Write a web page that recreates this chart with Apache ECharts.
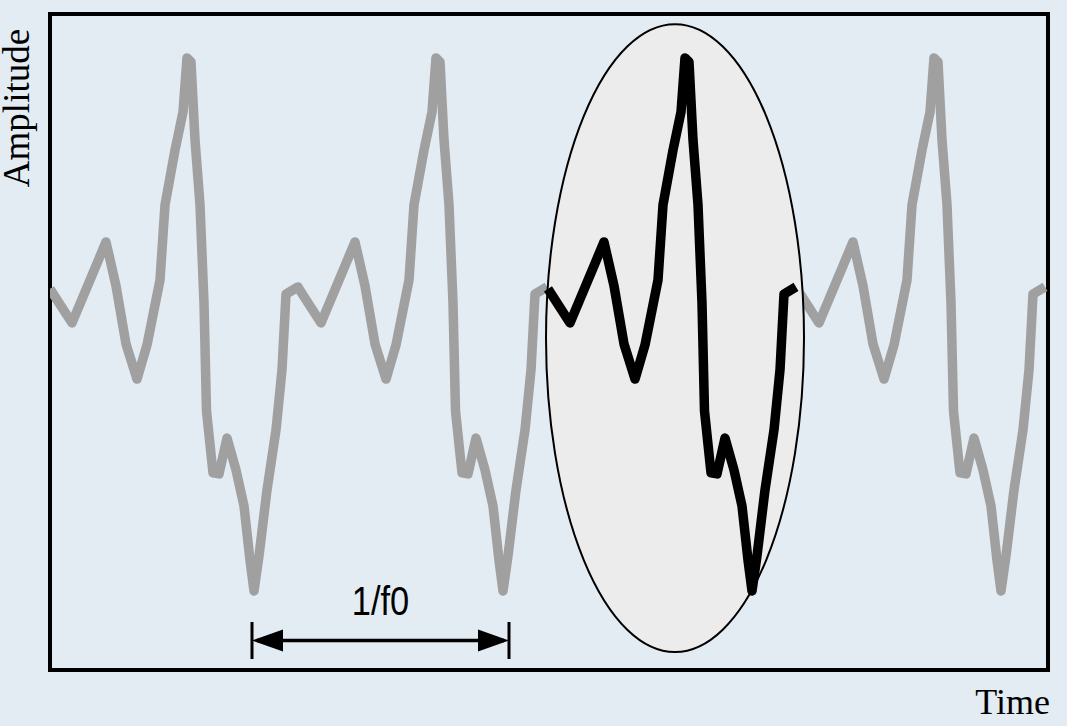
<!DOCTYPE html>
<html>
<head>
<meta charset="utf-8">
<style>
  html, body { margin: 0; padding: 0; background: #e3ebf3; }
  #chart { width: 1067px; height: 726px; }
</style>
<script src="https://cdn.jsdelivr.net/npm/echarts@6/dist/echarts.min.js"></script>
</head>
<body>
<div id="chart"></div>
<script>
// ---- Data ----
// One period of the waveform: phase (time units from period start) and amplitude
const periodPhase = [0, 22, 56, 66, 76, 87, 97, 110, 115, 125, 133, 137, 141, 145, 150, 154, 156.5, 163, 169, 177, 186, 194, 200, 204, 209, 217, 226, 232, 236, 248];
const periodAmp   = [0.162, 0.058, 0.305, 0.171, -0.006, -0.113, -0.009, 0.189, 0.418, 0.585, 0.701, 0.866, 0.854, 0.616, 0.418, 0.119, -0.210, -0.399, -0.402, -0.293, -0.390, -0.500, -0.665, -0.759, -0.652, -0.451, -0.268, -0.085, 0.146, 0.168];
// Start time of each period on the time axis
const periodStarts = [0, 249, 498, 747];
// Runs of consecutive periods: [first period index, number of periods]
const grayRuns = [[0, 2], [3, 1]];
const blackRuns = [[2, 1]];
// Time axis extent
const timeMin = 0, timeMax = 998;
// Highlight ellipse: centre (time, amplitude) and radii (time, amplitude)
const ellipseCenter = [625, 0.012];
const ellipseRadius = [129, 0.957];
// Period arrow: from, to (time), amplitude level, label
const arrowFrom = 202, arrowTo = 459, arrowLevel = -0.91;
const arrowLabel = '1/f0';
const yLabel = 'Amplitude', xLabel = 'Time';

// waveform drawn through the cartesian scales
function waveRenderer(color, width) {
  return function (params, api) {
    const first = api.value(0), count = api.value(1);
    const pts = [];
    for (let k = first; k < first + count; k++) {
      for (let i = 0; i < periodPhase.length; i++) {
        pts.push(api.coord([periodStarts[k] + periodPhase[i], periodAmp[i]]));
      }
    }
    return {
      type: 'polyline',
      shape: { points: pts },
      style: { stroke: color, lineWidth: width, fill: null, lineJoin: 'round', lineCap: 'butt' }
    };
  };
}

const chart = echarts.init(document.getElementById('chart'), null, { renderer: 'svg', width: 1067, height: 726 });

const option = {
  backgroundColor: '#e3ebf3',
  animation: false,
  grid: { left: 50, right: 19, top: 14, bottom: 56, show: true, borderColor: '#000', borderWidth: 4, backgroundColor: 'transparent' },
  xAxis: { type: 'value', min: timeMin, max: timeMax, axisLine: { show: false }, axisTick: { show: false }, axisLabel: { show: false }, splitLine: { show: false } },
  yAxis: { type: 'value', min: -1, max: 1, axisLine: { show: false }, axisTick: { show: false }, axisLabel: { show: false }, splitLine: { show: false } },
  graphic: [
    { type: 'text', x: 16, y: 108, rotation: Math.PI / 2,
      style: { text: yLabel, font: '37px "Liberation Serif", "DejaVu Serif", serif', fill: '#000', align: 'center', verticalAlign: 'middle' } },
    { type: 'text', x: 1050, y: 702,
      style: { text: xLabel, font: '36px "Liberation Serif", "DejaVu Serif", serif', fill: '#000', align: 'right', verticalAlign: 'middle' } }
  ],
  series: [
    {
      type: 'custom', z: 1, data: grayRuns, clip: true,
      renderItem: waveRenderer('#a0a0a0', 9.5)
    },
    {
      type: 'custom', z: 2, data: [[ellipseCenter[0], ellipseCenter[1], ellipseRadius[0], ellipseRadius[1]]],
      clip: false,
      renderItem: function (params, api) {
        const c = api.coord([api.value(0), api.value(1)]);
        const s = api.size([api.value(2), api.value(3)]);
        return {
          type: 'path',
          shape: { pathData: 'M0,50A50,50,0,1,0,100,50A50,50,0,1,0,0,50Z', x: c[0] - s[0], y: c[1] - s[1], width: 2 * s[0], height: 2 * s[1], layout: 'cover' },
          style: { fill: '#ececec', stroke: '#000', lineWidth: 2 }
        };
      }
    },
    {
      type: 'custom', z: 3, data: blackRuns, clip: true,
      renderItem: waveRenderer('#000', 9.5)
    },
    {
      type: 'custom', z: 4, data: [[arrowFrom, arrowTo, arrowLevel]], clip: false,
      renderItem: function (params, api) {
        const p1 = api.coord([api.value(0), api.value(2)]);
        const p2 = api.coord([api.value(1), api.value(2)]);
        const y = p1[1], hl = 31, hw = 11, bh = 18.5;
        return {
          type: 'group',
          children: [
            { type: 'line', shape: { x1: p1[0] + 5, y1: y, x2: p2[0] - 5, y2: y }, style: { stroke: '#000', lineWidth: 3.5 } },
            { type: 'polygon', shape: { points: [[p1[0], y], [p1[0] + hl, y - hw], [p1[0] + hl, y + hw]] }, style: { fill: '#000' } },
            { type: 'polygon', shape: { points: [[p2[0], y], [p2[0] - hl, y - hw], [p2[0] - hl, y + hw]] }, style: { fill: '#000' } },
            { type: 'line', shape: { x1: p1[0], y1: y - bh, x2: p1[0], y2: y + bh }, style: { stroke: '#000', lineWidth: 3 } },
            { type: 'line', shape: { x1: p2[0], y1: y - bh, x2: p2[0], y2: y + bh }, style: { stroke: '#000', lineWidth: 3 } },
            { type: 'text', x: (p1[0] + p2[0]) / 2, y: y - 39.5, scaleX: 0.84,
              style: { text: arrowLabel, font: '41px "Liberation Sans", Arial, sans-serif', fill: '#000', align: 'center', verticalAlign: 'middle' } }
          ]
        };
      }
    }
  ]
};
chart.setOption(option);
</script>
</body>
</html>
